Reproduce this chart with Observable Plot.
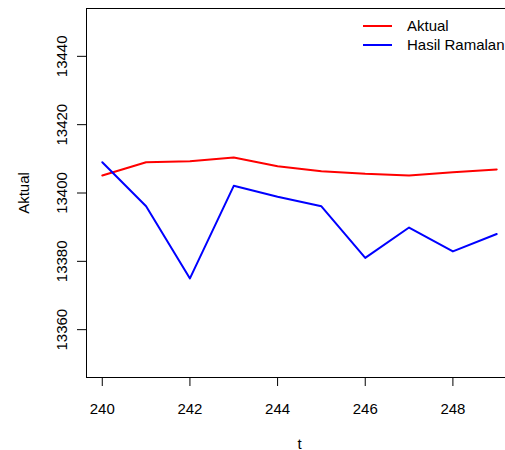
<!DOCTYPE html>
<html>
<head>
<meta charset="utf-8">
<script src="https://cdn.jsdelivr.net/npm/d3@7"></script>
<script src="https://cdn.jsdelivr.net/npm/@observablehq/plot@0.6"></script>
<style>
  html, body { margin: 0; padding: 0; background: #fff; }
  #wrap { position: relative; width: 505px; height: 450px; overflow: hidden; font-family: "Liberation Sans", Arial, sans-serif; }
  #legend { position: absolute; left: 363px; top: 16px; font-size: 15px; line-height: 19px; color: #000; white-space: nowrap; }
  #legend .row { display: flex; align-items: center; height: 19px; }
  #legend .sw { width: 29px; height: 2px; margin-right: 15px; }
</style>
</head>
<body>
<div id="wrap"><div id="legend"></div></div>
<script>
const t = [240, 241, 242, 243, 244, 245, 246, 247, 248, 249];
const aktual = [13405.1, 13409.0, 13409.3, 13410.4, 13407.8, 13406.4, 13405.6, 13405.1, 13406.1, 13406.9];
const ramalan = [13409.0, 13396.1, 13375.0, 13402.1, 13398.9, 13396.1, 13381.0, 13389.9, 13382.9, 13388.0];
const xTicks = [240, 242, 244, 246, 248];
const yTicks = [13360, 13380, 13400, 13420, 13440];
const seriesNames = ["Aktual", "Hasil Ramalan"];
const seriesColors = ["red", "blue"];
const xDomain = [239.64, 249.36];
const yDomain = [13346, 13454];

const rows = [];
t.forEach((d, i) => rows.push({t: d, v: aktual[i], s: seriesNames[0]}));
t.forEach((d, i) => rows.push({t: d, v: ramalan[i], s: seriesNames[1]}));

const chart = Plot.plot({
  width: 505,
  height: 450,
  marginLeft: 86,
  marginTop: 8,
  marginBottom: 73,
  marginRight: -7,
  x: {domain: xDomain, axis: null},
  y: {domain: yDomain, axis: null},
  color: {domain: seriesNames, range: seriesColors},
  style: {fontFamily: "'Liberation Sans', Arial, sans-serif", fontSize: "15px", background: "white", color: "#000"},
  marks: [
    Plot.ruleX([xDomain[0]], {stroke: "#000", strokeWidth: 1}),
    Plot.ruleY(yDomain, {stroke: "#000", strokeWidth: 1}),
    Plot.axisY({ticks: yTicks, tickSize: 9, tickFormat: () => "", label: null, stroke: "#000", strokeOpacity: 1}),
    Plot.axisX({ticks: xTicks, tickSize: 9, tickFormat: () => "", label: null, stroke: "#000", strokeOpacity: 1}),
    Plot.text(yTicks, {y: d => d, text: d => String(d), frameAnchor: "left", dx: -20, rotate: -90, textAnchor: "middle", lineAnchor: "bottom", fill: "#000"}),
    Plot.text(xTicks, {x: d => d, text: d => String(d), frameAnchor: "bottom", dy: 36, lineAnchor: "bottom", fill: "#000"}),
    Plot.text(["Aktual"], {frameAnchor: "left", dx: -58, rotate: -90, textAnchor: "middle", lineAnchor: "bottom", fill: "#000"}),
    Plot.text(["t"], {frameAnchor: "bottom", dy: 71, lineAnchor: "bottom", fill: "#000"}),
    Plot.line(rows, {x: "t", y: "v", z: "s", stroke: "s", strokeWidth: 2})
  ]
});
const wrap = document.getElementById("wrap");
wrap.insertBefore(chart, wrap.firstChild);

const legend = document.getElementById("legend");
seriesNames.forEach((n, i) => {
  const r = document.createElement("div");
  r.className = "row";
  const sw = document.createElement("div");
  sw.className = "sw";
  sw.style.background = seriesColors[i];
  const tx = document.createElement("span");
  tx.textContent = n;
  r.appendChild(sw); r.appendChild(tx);
  legend.appendChild(r);
});
</script>
</body>
</html>
